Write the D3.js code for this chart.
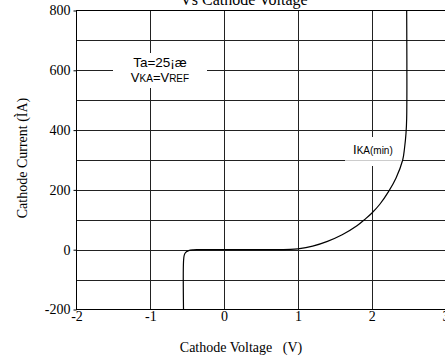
<!DOCTYPE html>
<html>
<head>
<meta charset="utf-8">
<script src="https://cdn.jsdelivr.net/npm/d3@7/dist/d3.min.js"></script>
<style>
  html, body { margin: 0; padding: 0; background: #fff; }
  svg { display: block; }
</style>
</head>
<body>
<svg id="chart" width="445" height="358"></svg>
<script>
// Cathode current vs cathode voltage characteristic
const voltage = [-0.55, -0.55, -0.54, -0.52, -0.48, -0.42, -0.35, 0.0, 0.5, 0.9, 1.0, 1.2, 1.4, 1.6, 1.8, 1.91, 2.0, 2.11, 2.23, 2.33, 2.42, 2.445, 2.465, 2.474, 2.474];
const current = [-200, -40, -18, -9, -3, -0.5, 0, 0, 0.3, 1, 3, 12, 28, 50, 80, 102, 122, 152, 195, 240, 300, 340, 390, 440, 800];

const xTicks = [-2, -1, 0, 1, 2, 3];
const yTicks = [-200, 0, 200, 400, 600, 800];
const yGrid = [-100, 0, 100, 200, 300, 400, 500, 600, 700];
const xGrid = [-1, 0, 1, 2];

const titleText = "Vs Cathode Voltage";
const xTitle = "Cathode Voltage   (V)";
const yTitle = "Cathode Current (ÌA)";

const svg = d3.select("#chart");
const x = d3.scaleLinear().domain([-2, 3]).range([76.5, 445.5]);
const y = d3.scaleLinear().domain([-200, 800]).range([309.5, 10.5]);

const serif = "'Liberation Serif', 'Times New Roman', serif";
const sans = "'Liberation Sans', Arial, sans-serif";

// title (first line runs above the frame)
svg.append("text")
  .attr("x", 244).attr("y", 5)
  .attr("text-anchor", "middle")
  .style("font-family", serif).style("font-size", "16px")
  .text(titleText);

// grid
const grid = svg.append("g").attr("stroke", "#222").attr("stroke-width", 1);
grid.selectAll(".h").data(yGrid).join("line")
  .attr("x1", x(-2)).attr("x2", x(3))
  .attr("y1", d => Math.round(y(d)) + 0.5).attr("y2", d => Math.round(y(d)) + 0.5);
grid.selectAll(".v").data(xGrid).join("line")
  .attr("x1", d => Math.round(x(d)) + 0.5).attr("x2", d => Math.round(x(d)) + 0.5)
  .attr("y1", y(800)).attr("y2", y(-200));

// frame
svg.append("rect")
  .attr("x", x(-2)).attr("y", y(800))
  .attr("width", x(3) - x(-2)).attr("height", y(-200) - y(800))
  .attr("fill", "none").attr("stroke", "#000").attr("stroke-width", 1);

// y axis
const yAxis = d3.axisLeft(y).tickValues(yTicks).tickSize(3).tickPadding(3).tickFormat(d => String(d));
svg.append("g").attr("transform", `translate(${x(-2)},0)`).call(yAxis)
  .call(g => g.select(".domain").remove())
  .call(g => g.selectAll("text").style("font-family", serif).style("font-size", "14px").attr("fill", "#000"));

// x axis
const xAxis = d3.axisBottom(x).tickValues(xTicks).tickSize(0).tickPadding(2).tickFormat(d => String(d));
svg.append("g").attr("transform", `translate(0,${y(-200)})`).call(xAxis)
  .call(g => g.select(".domain").remove())
  .call(g => g.selectAll("text").style("font-family", serif).style("font-size", "14px").attr("fill", "#000"));

// axis titles
svg.append("text")
  .attr("x", 241).attr("y", 352)
  .attr("text-anchor", "middle")
  .style("font-family", serif).style("font-size", "14px")
  .style("white-space", "pre")
  .text(xTitle);
svg.append("text")
  .attr("transform", "translate(27,158) rotate(-90)")
  .attr("text-anchor", "middle")
  .style("font-family", serif).style("font-size", "14px")
  .text(yTitle);

// condition note
svg.append("rect").attr("x", 113).attr("y", 53).attr("width", 94).attr("height", 35).attr("fill", "#fff");
const note = svg.append("g").style("font-family", sans).attr("text-anchor", "middle");
note.append("text").attr("x", 160).attr("y", 67).style("font-size", "13.5px").text("Ta=25¡æ");
const n2 = note.append("text").attr("x", 160).attr("y", 82).style("font-size", "13px");
n2.append("tspan").text("V");
n2.append("tspan").style("font-size", "10px").text("KA");
n2.append("tspan").text("=V");
n2.append("tspan").style("font-size", "10px").text("REF");

// curve label
svg.append("rect").attr("x", 345).attr("y", 137).attr("width", 57).attr("height", 29).attr("fill", "#fff");
svg.append("line")
  .attr("x1", 345).attr("x2", 401)
  .attr("y1", Math.round(y(300)) + 0.5).attr("y2", Math.round(y(300)) + 0.5)
  .attr("stroke", "#ccc").attr("stroke-width", 1);
const lab = svg.append("text").attr("x", 353).attr("y", 154).style("font-family", sans);
lab.append("tspan").style("font-size", "13px").text("I");
lab.append("tspan").style("font-size", "10px").text("KA(min)");

// characteristic curve
const pts = voltage.map((v, i) => [v, current[i]]);
const line = d3.line().x(d => x(d[0])).y(d => y(d[1])).curve(d3.curveCatmullRom.alpha(0.5));
svg.append("path").datum(pts)
  .attr("d", line)
  .attr("fill", "none").attr("stroke", "#000").attr("stroke-width", 1.2);
</script>
</body>
</html>
